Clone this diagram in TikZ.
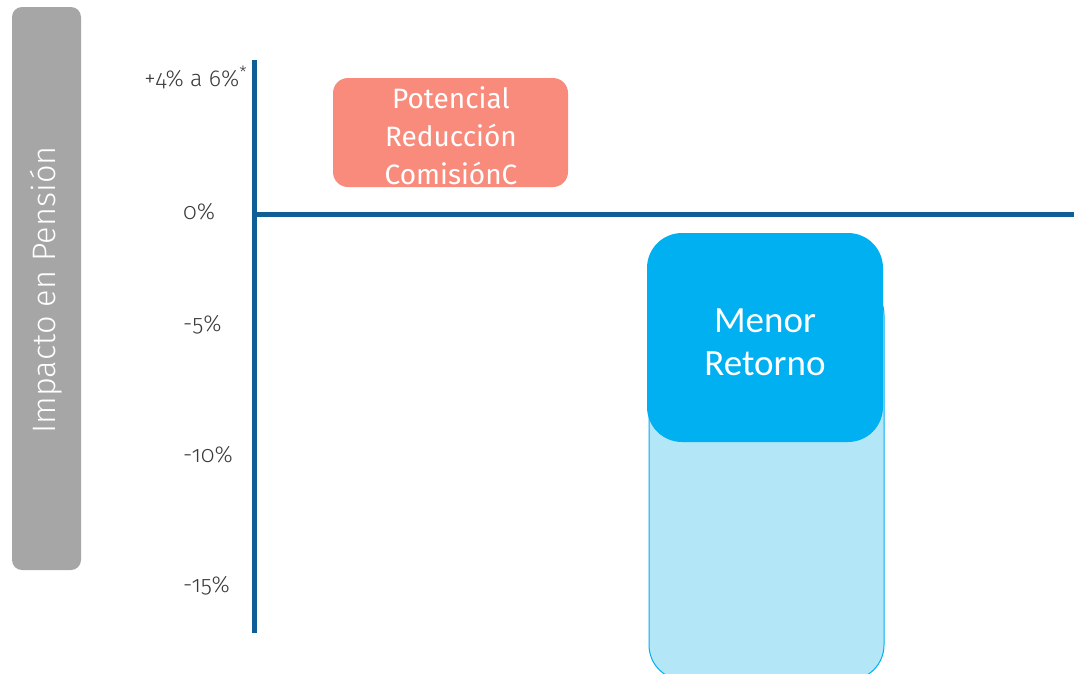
\documentclass[tikz,border=0pt]{standalone}
\usepackage{fontspec}
\setmainfont{Fira Sans Light}[Numbers=OldStyle]
\newfontfamily\boxfont{Fira Sans}
\newfontfamily\calfont{Carlito}
\begin{document}
\begin{tikzpicture}[x=1pt,y=-1pt]
\definecolor{axisblue}{HTML}{0F5E96}
\definecolor{grayband}{HTML}{A6A6A6}
\definecolor{salmon}{HTML}{F98B7C}
\definecolor{skyblue}{HTML}{00B0F0}
\definecolor{paleblue}{HTML}{B3E7F8}
\definecolor{labelgray}{HTML}{3A3A3A}
\tikzset{
  tick/.style={font=\fontsize{23}{25}\selectfont, text=labelgray, inner sep=0pt},
  axisline/.style={draw=axisblue, line width=5pt},
}
\useasboundingbox (0,0) rectangle (1074,673);
\begin{scope}
\clip (0,0) rectangle (1074,673);
% y-axis title band
\node[fill=grayband, rounded corners=10pt, minimum width=69pt, minimum height=563pt, inner sep=0pt] (band) at (46.5,288.5) {};
\node[rotate=90, text=white, font=\fontsize{32.5}{34}\selectfont] (title) at (46.5,290) {Impacto en Pensión};
% axes
\coordinate (ytop) at (254,60);
\coordinate (ybot) at (254,633);
\coordinate (xl) at (252,214);
\coordinate (xr) at (1074,214);
\draw[axisline] (ytop) -- (ybot);
\draw[axisline] (xl) -- (xr);
% tick labels
\node[tick, anchor=east] (t1) at (247,77) {+4\% a 6\%\raisebox{0.35em}{\fontsize{17}{17}\selectfont *}};
\node[tick, anchor=west] (t2) at (183,212) {0\%};
\node[tick, anchor=west] (t3) at (183,325) {-5\%};
\node[tick, anchor=west] (t4) at (183,455) {-10\%};
\node[tick, anchor=west] (t5) at (183,586) {-15\%};
% potential reduction box
\node[fill=salmon, rounded corners=15pt, minimum width=235pt, minimum height=109pt, inner sep=0pt] (pot) at (450.5,132.5) {};
\node[text=white, font=\boxfont\fontsize{28}{38}\selectfont, align=center] (pottext) at (451,136) {Potencial\\Reducción\\ComisiónC};
% lower return range
\node[fill=paleblue, draw=skyblue, line width=1pt, rounded corners=35pt, minimum width=235pt, minimum height=400pt, inner sep=0pt] (range) at (766.5,480) {};
\node[fill=skyblue, rounded corners=35pt, minimum width=236pt, minimum height=209pt, inner sep=0pt] (menor) at (765,337.5) {};
\node[text=white, font=\calfont\fontsize{37}{43}\selectfont, align=center] (menortext) at (765,342) {Menor\\Retorno};
\end{scope}
\end{tikzpicture}
\end{document}
